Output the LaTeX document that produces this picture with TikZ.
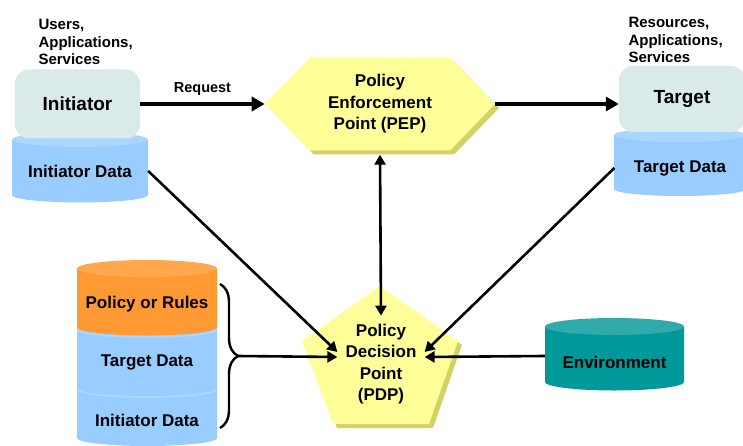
\documentclass[tikz,border=0pt]{standalone}
\usepackage{fontspec}
\setmainfont{Liberation Sans}
\usepackage{tikz}
\usetikzlibrary{shapes.symbols, shadows}
\usetikzlibrary{decorations.pathreplacing, arrows.meta}
\definecolor{boxgray}{HTML}{D9EAE9}
\definecolor{datablue}{HTML}{99CCFF}
\definecolor{datatop}{HTML}{ABD6FF}
\definecolor{rulesorange}{HTML}{FF9933}
\definecolor{rulestop}{HTML}{FFA84D}
\definecolor{envteal}{HTML}{009999}
\definecolor{envtop}{HTML}{30AAAA}
\definecolor{pointyellow}{HTML}{FFFF99}
\definecolor{pointshade}{HTML}{D2D266}
% drum: left x, top y, x radius, body height, y radius, body colour, top colour
\newcommand{\drum}[7]{%
  \fill[#6] (#1,#2) -- ++(0,#4) arc[start angle=180, end angle=360, x radius=#3pt, y radius=#5pt] -- ++(0,-#4) -- cycle;
  \fill[#7] (#1+#3,#2) ellipse[x radius=#3pt, y radius=#5pt];}

\begin{document}
\begin{tikzpicture}[x=1pt, y=-1pt,
    box/.style={fill=boxgray, rounded corners=14pt, font=\fontsize{19}{22}\selectfont\bfseries},
    lbl/.style={font=\fontsize{17}{21.5}\selectfont\bfseries, align=center},
    small/.style={font=\fontsize{15}{17.5}\selectfont\bfseries, align=left, anchor=west},
    conn/.style={line width=2.6pt, -{Triangle[length=10pt,width=11pt]}},
    flow/.style={line width=4pt, -{Triangle[length=13pt,width=14pt]}}]
  \useasboundingbox (0,0) rectangle (743,446);

  % data stores
  \drum{12}{139.5}{68}{55.5}{7.5}{datablue}{datatop}
  \drum{614}{135}{66}{54}{7}{datablue}{datatop}
  \drum{545}{326.5}{69.5}{55.5}{8.5}{envteal}{envtop}
  \drum{77}{387}{70}{51}{8}{datablue}{datatop}
  \drum{77}{327}{70}{60}{8}{datablue}{datatop}
  \drum{77}{268.5}{70}{58.5}{8.5}{rulesorange}{rulestop}
  \draw[datatop, line width=2pt] (77,329) arc[start angle=180, end angle=360, x radius=70pt, y radius=8pt];
  \draw[datatop, line width=2pt] (77,389) arc[start angle=180, end angle=360, x radius=70pt, y radius=8pt];

  \node[small] at (35,42) (users) {Users,\\Applications,\\Services};
  \node[small] at (625,40) (res) {Resources,\\Applications,\\Services};

  \node[box, minimum width=125, minimum height=69] at (77.5,104) (ini) {Initiator};
  \node[box, minimum width=126, minimum height=66] at (682,99) (tgt) {Target};
  \node[lbl, minimum width=136] at (80,171) (inidata) {Initiator Data};
  \node[lbl, minimum width=131] at (680,168) (tgtdata) {Target Data};
  \node[lbl, minimum width=139] at (614.5,362) (env) {Environment};
  \node[lbl] at (147,304) (rules) {Policy or Rules};
  \node[lbl] at (147,362) (stgt) {Target Data};
  \node[lbl] at (147,420) (sini) {Initiator Data};

  \node[lbl, signal, signal to=west and east, signal pointer angle=92,
        fill=pointyellow, minimum width=230, minimum height=93, inner sep=0pt,
        general shadow={fill=pointshade, shadow xshift=4pt, shadow yshift=-4pt}]
        at (380,104) (pep) {Policy\\Enforcement\\Point (PEP)};

  \fill[pointshade, shift={(4,4)}] (380,286) -- (458,341) -- (429,424) -- (333,424) -- (302,341) -- cycle;
  \fill[pointyellow] (380,286) -- (458,341) -- (429,424) -- (333,424) -- (302,341) -- cycle;
  \node[lbl, inner sep=8pt] at (381,364) (pdp) {Policy\\Decision\\Point\\(PDP)};

  \draw[flow] (ini.east) -- node[above=3pt, font=\fontsize{14.5}{17}\selectfont\bfseries] (req) {Request} (pep.west);
  \draw[flow] (pep.east) -- (pep.east -| tgt.west);
  \draw[line width=2.6pt, {Triangle[length=10pt,width=11pt]}-{Triangle[length=10pt,width=11pt]}] ([yshift=-4pt]pep.south) -- (pdp.north);
  \draw[conn] (inidata.east) -- ([yshift=12pt]pdp.west);
  \draw[conn] (tgtdata.west) -- ([yshift=12pt]pdp.east);
  \draw[conn] ([yshift=6pt]env.west) -- ([yshift=7pt]pdp.east);

  \draw[line width=2.4pt, decorate, decoration={brace, amplitude=18pt}] (220,284) -- (220,428);
  \coordinate (bt) at (238,356);
  \draw[conn] (bt) -- ([yshift=7pt]pdp.west);
\end{tikzpicture}
\end{document}
